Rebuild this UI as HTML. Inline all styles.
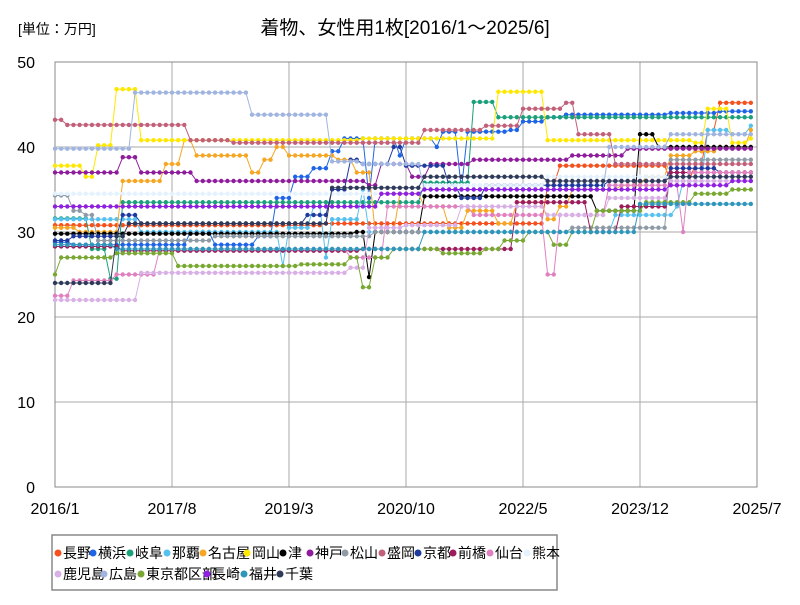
<!DOCTYPE html>
<html><head><meta charset="utf-8"><style>
body{margin:0;background:#fff;font-family:"Liberation Sans","Noto Sans CJK JP",sans-serif}
</style></head><body>
<svg id="c" width="800" height="600" xmlns="http://www.w3.org/2000/svg" font-family="Liberation Sans, Noto Sans CJK JP, sans-serif">
<rect width="800" height="600" fill="#fff"/>
<text x="18" y="34" font-size="14">[単位：万円]</text>
<text x="405" y="34" font-size="19" text-anchor="middle">着物、女性用1枚[2016/1～2025/6]</text>
<g id="grid"></g><g id="series"></g>
<rect x="52" y="535" width="505" height="55" fill="#fff" stroke="#888" stroke-width="1.5"/>
<g id="legend"></g>
</svg>
<script>
const xTicks=["2016/1","2017/8","2019/3","2020/10","2022/5","2023/12","2025/7"];
const yTicks=[0,10,20,30,40,50];
const names=["長野","横浜","岐阜","那覇","名古屋","岡山","津","神戸","松山","盛岡","京都","前橋","仙台","熊本","鹿児島","広島","東京都区部","長崎","福井","千葉"];
const colors=["#f4511e","#1e64e6","#1aa07a","#56c0ee","#f5a623","#ffe800","#000000","#8e1c9c","#8e9aa5","#c2607a","#1f3a9e","#9c1c5c","#e080c0","#e4f2ff","#d8b0e6","#a0b4e0","#78a832","#9020e0","#2e96bb","#2f3a5a"];
// step segments [startMonthIndex, value] (month 0 = 2016/1), 114 months total
const nagano=[[0,30.8],[44,31],[80,35.5],[82,37.8],[100,36],[104,38],[106,42],[108,45.2]];
const yokohama=[[0,28.8],[3,28.5],[22,30],[26,28.5],[33,29.5],[36,34],[39,36.5],[42,37.5],[45,39.5],[47,41],[51,34],[52,41],[56,39],[57,41],[62,40],[63,41.8],[66,35],[67,41.8],[74,42],[76,43],[80,43.5],[83,43.8],[100,44],[108,44.2]];
const gifu=[[0,31.6],[6,28],[9,24.5],[11,33.5],[60,35.8],[68,45.3],[72,43.5]];
const naha=[[0,31.5],[14,30],[37,26],[38,30.5],[42,33],[44,27],[45,31.5],[50,35],[51,30],[91,32],[101,33],[102,36],[106,42],[110,41.5],[113,42.5]];
const nagoya=[[0,30.5],[4,30],[11,36],[18,38],[21,40.8],[23,39],[32,37],[34,38.5],[36,40],[38,39],[46,38.5],[49,37],[52,30],[56,34.5],[60,33],[64,30.5],[67,32.5],[72,31],[75,33.5],[80,31.5],[82,33],[84,35],[92,35.5],[96,36.5],[100,39],[104,39.5],[108,40],[113,42]];
const okayama=[[0,37.8],[5,36.5],[7,40.2],[10,46.8],[14,40.8],[50,41],[72,46.5],[80,40.8],[104,40.5],[106,44.5],[110,40.5],[113,41]];
const tsu=[[0,29.8],[49,30],[51,24.7],[52,30],[60,34.2],[88,32.5],[95,41.5],[98,40]];
const kobe=[[0,37],[11,38.8],[14,37],[23,36],[51,35.5],[53,38],[58,36.5],[61,38],[68,38.5],[84,39],[93,39.8]];
const matsuyama=[[0,34.3],[3,32.5],[5,32],[7,29],[26,29.5],[52,30],[84,30.5],[100,38.5]];
const morioka=[[0,43.2],[2,42.6],[22,40.8],[29,40.5],[60,42],[70,42.5],[76,44.5],[83,45.2],[85,41.5],[91,38]];
const kyoto=[[0,29],[3,29.5],[11,32],[14,31],[41,32],[45,35],[48,38.5],[50,38],[55,40],[57,37.8],[64,35.5],[66,34],[70,35.5],[90,36],[100,37.5],[108,37]];
const maebashi=[[0,28.3],[11,27.8],[50,28],[75,33.5],[87,30],[92,33],[100,37]];
const sendai=[[0,22.5],[3,24.3],[10,25],[17,28],[48,27],[54,33],[68,32],[80,25],[82,32],[90,35.5],[102,30],[103,37]];
const kumamoto=[[0,34.5],[60,35.5],[80,36.5]];
const kagoshima=[[0,22],[14,25.2],[48,25.8],[51,30.5],[57,30.8],[66,33],[80,32],[90,34],[100,36]];
const hiroshima=[[0,39.8],[13,46.4],[32,43.8],[45,38.3],[50,38],[60,35],[90,40],[100,41.5]];
const tokyo=[[0,25],[1,27],[10,27.5],[20,26],[40,26.2],[48,27],[50,23.5],[52,27],[55,28],[63,27.5],[70,28],[73,29],[77,30],[81,28.5],[84,30],[88,32.5],[96,33.5],[104,34.5],[110,35]];
const nagasaki=[[0,33],[53,34.5],[60,35],[100,35.5],[110,36]];
const fukui=[[0,28.5],[10,28],[60,30],[95,33.3]];
const chiba=[[0,24],[10,29.5],[12,31],[45,35.2],[60,36.5],[80,36],[100,36.5]];
const seriesData=[nagano,yokohama,gifu,naha,nagoya,okayama,tsu,kobe,matsuyama,morioka,kyoto,maebashi,sendai,kumamoto,kagoshima,hiroshima,tokyo,nagasaki,fukui,chiba];
const NM=114;
const X0=55,X1=757,Y0=487,Y1=62;
const xs=m=>X0+m*(X1-X0)/NM;
const ys=v=>Y0-v*(Y0-Y1)/50;
const NS="http://www.w3.org/2000/svg";
function mk(t,a,p){const e=document.createElementNS(NS,t);for(const k in a)e.setAttribute(k,a[k]);p.appendChild(e);return e;}
const g=document.getElementById('grid');
yTicks.forEach(v=>{
 const l=mk('line',{x1:X0,x2:X1,y1:ys(v),y2:ys(v),stroke:'#aaa'},g);
 
 
 const t=mk('text',{x:35,y:ys(v)+6,'font-size':16,'text-anchor':'end'},g);t.textContent=v;
 
 
});
xTicks.forEach((s,i)=>{
 const x=xs(i*19);
 const l=mk('line',{x1:x,x2:x,y1:Y1,y2:Y0,stroke:'#aaa'},g);
 
 
 const t=mk('text',{x:x,y:514,'font-size':16,'text-anchor':'middle'},g);t.textContent=s;
 
 
});
const fr=mk('rect',{x:X0,y:Y1,width:X1-X0,height:Y0-Y1,fill:'none',stroke:'#888'},g);


const sg=document.getElementById('series');
seriesData.forEach((segs,si)=>{
 const vals=[];let k=0;
 for(let m=0;m<NM;m++){while(k+1<segs.length&&segs[k+1][0]<=m)k++;vals.push(segs[k][1]);}
 const gg=mk('g',{},sg);
 
 
 mk('polyline',{points:vals.map((v,m)=>xs(m)+','+ys(v)).join(' '),fill:'none',stroke:colors[si],'stroke-width':1},gg);
 vals.forEach((v,m)=>{const c=mk('circle',{cx:xs(m),cy:ys(v),r:2.2,fill:colors[si]},gg);
  
  });
});
const lg=document.getElementById('legend');
const lx=[58,93,130,167,203,247,283,310,345,382,418,453,490,527,58,104,141,207,244,280];
names.forEach((n,i)=>{
 const y=i<14?553:574;
 const e=mk('g',{},lg);
 
 
 mk('circle',{cx:lx[i],cy:y,r:3.5,fill:colors[i]},e);
 const t=mk('text',{x:lx[i]+5,y:y+5,'font-size':14},e);t.textContent=n;
});
</script>
</body></html>
